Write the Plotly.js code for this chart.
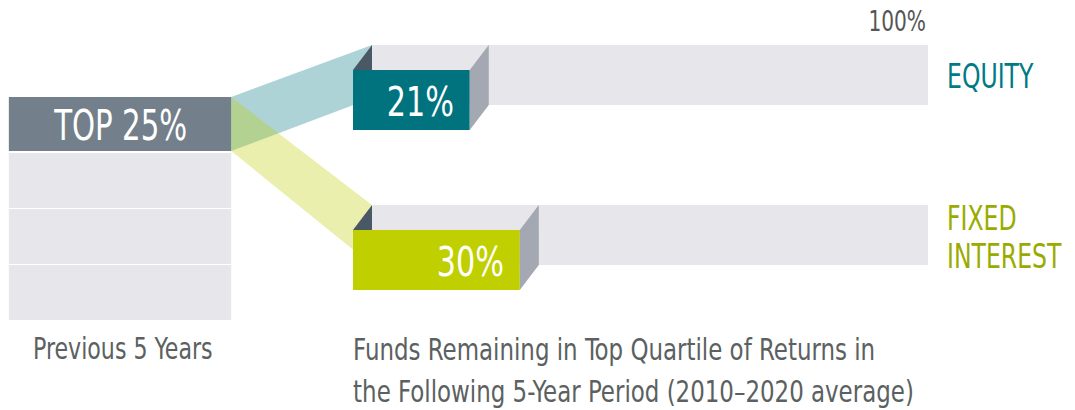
<!DOCTYPE html>
<html><head><meta charset="utf-8">
<script src="https://cdn.plot.ly/plotly-3.0.1.min.js"></script>
<style>body{margin:0;background:#fff}#chart{width:1075px;height:410px}</style>
</head><body><div id="chart"></div>
<script>
// ---- data ----
const assetClasses = ['EQUITY', 'FIXED<br>INTEREST'];
const remainingPct = [21, 30];
const fullScale = [100, 100];
const quartileLabels = ['TOP 25%', '', '', ''];
const leftLabel = 'Previous 5 Years';
const bottomLabel = 'Funds Remaining in Top Quartile of Returns in<br>the Following 5-Year Period (2010–2020 average)';
const maxLabel = '100%';

// ---- layout constants ----
const FONT = '"DejaVu Sans Condensed", "Liberation Sans Narrow", Roboto, sans-serif';
const TEAL = '#00737f', LIME = '#bfcf00';
const rowY = [100, 260];
const barH = 60;
const depthX = 3.42, depthY = 25;
const blockX0 = -61.9, blockX1 = -21.9;
const cellTops = [97, 153, 209, 265], cellBots = [151, 208, 264, 320];
const flowColors = ['rgba(0,118,128,0.32)', 'rgba(192,206,0,0.32)'];
const flowBottoms = [98, 265];
const labelColors = ['#007a85', '#9aab00'];
const labelY = [75.5, 217.5];
const labelLineGap = 38;
const bottomLineGap = 42;

const shapes = [];
// left quartile block
quartileLabels.forEach((q, i) => {
  shapes.push({type: 'rect', xref: 'x', yref: 'y', layer: 'below',
    x0: blockX0, x1: blockX1, y0: cellTops[i], y1: cellBots[i],
    fillcolor: i === 0 ? '#737f8a' : '#e6e6eb', line: {width: 0}});
});
// flows
remainingPct.forEach((v, i) => {
  const top = rowY[i] - barH / 2 - depthY;
  shapes.push({type: 'path', xref: 'x', yref: 'y', layer: 'below',
    path: `M${blockX1},${cellTops[0]} L${depthX},${top} L${depthX},${flowBottoms[i]} L${blockX1},${cellBots[0]} Z`,
    fillcolor: flowColors[i], line: {width: 0}});
});
// 3D decorations
remainingPct.forEach((v, i) => {
  const t = rowY[i] - barH / 2, b = rowY[i] + barH / 2;
  shapes.push({type: 'path', xref: 'x', yref: 'y', layer: 'above',
    path: `M${v},${t} L${v + depthX},${t - depthY} L${v + depthX},${b - depthY} L${v},${b} Z`,
    fillcolor: '#a3a8b2', line: {width: 0}});
  shapes.push({type: 'path', xref: 'x', yref: 'y', layer: 'above',
    path: `M0,${t} L${depthX},${t - depthY} L${depthX},${t} Z`,
    fillcolor: '#4a5764', line: {width: 0}});
});

const traces = [
  {type: 'bar', orientation: 'h', y: rowY.map(y => y - depthY), x: fullScale, base: depthX,
   width: barH, marker: {color: '#e6e6eb', line: {width: 0}}, hoverinfo: 'skip'},
  {type: 'bar', orientation: 'h', y: rowY, x: remainingPct, base: 0,
   width: barH, marker: {color: [TEAL, LIME], line: {width: 0}}, hoverinfo: 'skip'}
];

const annotations = [];
const squeeze = [];
function addText(a, sx) { annotations.push(a); squeeze.push(sx); }

addText({x: (blockX0 + blockX1) / 2, y: 125.5, text: quartileLabels[0],
   font: {family: FONT, size: 42, color: '#ffffff'}}, 0.775);
addText({x: fullScale[0] + depthX, y: 21.5, xanchor: 'right', text: maxLabel,
   font: {family: FONT, size: 28, color: '#555555'}}, 0.8);
addText({x: blockX0, xshift: 22, xanchor: 'left', y: 348, text: leftLabel,
   font: {family: FONT, size: 30, color: '#5b6160'}}, 0.82);
bottomLabel.split('<br>').forEach((line, j) => {
  addText({x: 0, xshift: -2, xanchor: 'left', y: 349 + j * bottomLineGap, text: line,
    font: {family: FONT, size: 30, color: '#5b6160'}}, 0.85);
});
remainingPct.forEach((v, i) => {
  addText({x: v, xshift: -14, xanchor: 'right', y: rowY[i] + 2, text: v + '%',
    font: {family: FONT, size: 41, color: '#ffffff'}}, 0.82);
  assetClasses[i].split('<br>').forEach((line, j) => {
    addText({x: fullScale[i] + depthX, xshift: 17, xanchor: 'left',
      y: labelY[i] + j * labelLineGap, text: line,
      font: {family: FONT, size: 34, color: labelColors[i]}}, 0.77);
  });
});
annotations.forEach(a => { a.xref = 'x'; a.yref = 'y'; a.showarrow = false; });

const layout = {
  width: 1075, height: 410, margin: {l: 0, r: 0, t: 0, b: 0},
  paper_bgcolor: '#ffffff', plot_bgcolor: '#ffffff',
  barmode: 'overlay', showlegend: false,
  xaxis: {range: [-63.49, 129.86], visible: false, fixedrange: true},
  yaxis: {range: [410, 0], visible: false, fixedrange: true},
  shapes: shapes, annotations: annotations
};
Plotly.newPlot('chart', traces, layout, {staticPlot: true}).then(gd => {
  // condense the text horizontally to mimic the narrow typeface
  gd.querySelectorAll('g.annotation').forEach(g => {
    const idx = +g.getAttribute('data-index');
    const a = annotations[idx];
    const t = g.querySelector('text.annotation-text');
    if (!t) return;
    const bb = t.getBBox();
    const anchor = a.xanchor || 'center';
    const ax = anchor === 'left' ? bb.x : anchor === 'right' ? bb.x + bb.width : bb.x + bb.width / 2;
    const prev = t.getAttribute('transform') || '';
    t.setAttribute('transform', `${prev} translate(${ax},0) scale(${squeeze[idx]},1) translate(${-ax},0)`);
  });
});
</script>
</body></html>
